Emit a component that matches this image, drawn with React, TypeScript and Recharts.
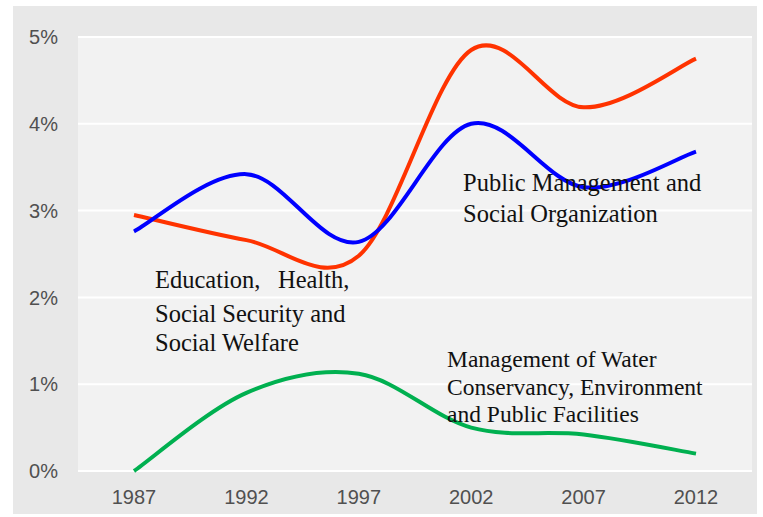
import React from 'react';
import { LineChart, Line, XAxis, YAxis, CartesianGrid } from 'recharts';

const years = ['1987', '1992', '1997', '2002', '2007', '2012'];
const redSeries = [2.95, 2.66, 2.48, 4.85, 4.19, 4.75];
const blueSeries = [2.76, 3.42, 2.64, 4.0, 3.27, 3.68];
const greenSeries = [0.0, 0.9, 1.12, 0.5, 0.42, 0.2];
const yTicks = [0, 1, 2, 3, 4, 5];

const data = years.map((year, i) => ({
  year,
  red: redSeries[i],
  blue: blueSeries[i],
  green: greenSeries[i],
}));

// Excel-like smoothing (Catmull-Rom style Bezier segments)
const excelCurve = (context: any) => {
  let pts: number[][] = [];
  return {
    areaStart() {},
    areaEnd() {},
    lineStart() {
      pts = [];
    },
    lineEnd() {
      if (!pts.length) return;
      context.moveTo(pts[0][0], pts[0][1]);
      for (let i = 0; i < pts.length - 1; i++) {
        const p0 = pts[i - 1] || pts[i];
        const p1 = pts[i];
        const p2 = pts[i + 1];
        const p3 = pts[i + 2] || pts[i + 1];
        const c1x = p1[0] + (p2[0] - p0[0]) / 6;
        const c1y = p1[1] + (p2[1] - p0[1]) / 6;
        const c2x = p2[0] - (p3[0] - p1[0]) / 6;
        const c2y = p2[1] - (p3[1] - p1[1]) / 6;
        context.bezierCurveTo(c1x, c1y, c2x, c2y, p2[0], p2[1]);
      }
    },
    point(x: number, y: number) {
      pts.push([+x, +y]);
    },
  };
};

const tickFont = "'Liberation Sans Narrow', 'Arial Narrow', 'Liberation Sans', sans-serif";
const serif = "'Liberation Serif', 'Times New Roman', serif";

export default function App() {
  return (
    <div style={{ position: 'absolute', left: 0, top: 0, width: 763, height: 517, background: '#ffffff' }}>
      <div style={{ position: 'absolute', left: 13, top: 6, width: 744, height: 508, background: '#e8e8e8' }} />
      <div style={{ position: 'absolute', left: 0, top: 0 }}>
        <LineChart width={763} height={517} data={data} margin={{ top: 37, right: 11, bottom: 0, left: 0 }}>
          <CartesianGrid vertical={false} stroke="#ffffff" strokeWidth={2} fill="#f2f2f2" />
          <XAxis
            dataKey="year"
            height={46}
            axisLine={false}
            tickLine={false}
            tickSize={0}
            tickMargin={19}
            padding={{ left: 56, right: 56 }}
            tick={{ fill: '#505050', fontSize: 20, fontFamily: tickFont }}
            interval={0}
          />
          <YAxis
            width={78}
            domain={[0, 5]}
            ticks={yTicks}
            axisLine={false}
            tickLine={false}
            tickSize={0}
            tickMargin={20}
            tickFormatter={(v: number) => `${v}%`}
            tick={{ fill: '#505050', fontSize: 20, fontFamily: tickFont }}
          />
          <Line dataKey="red" type={excelCurve as any} stroke="#ff3300" strokeWidth={4} dot={false} isAnimationActive={false} />
          <Line dataKey="blue" type={excelCurve as any} stroke="#0000ff" strokeWidth={4} dot={false} isAnimationActive={false} />
          <Line dataKey="green" type={excelCurve as any} stroke="#00b050" strokeWidth={4} dot={false} isAnimationActive={false} />
        </LineChart>
      </div>
      <svg width={763} height={517} style={{ position: 'absolute', left: 0, top: 0, pointerEvents: 'none' }}>
        <g fontFamily={serif} fontSize={24.5} fill="#111111">
          <text x={155} y={288}>
            <tspan>Education,</tspan>
            <tspan x={278}>Health,</tspan>
          </text>
          <text x={155} y={322}>Social Security and</text>
          <text x={155} y={351}>Social Welfare</text>
          <text x={463} y={191}>
            <tspan>Public Management</tspan>
            <tspan x={666}>and</tspan>
          </text>
          <text x={463} y={222}>Social Organization</text>
          <text x={447} y={367} fontSize={23.5}>
            <tspan>Management</tspan>
            <tspan x={576}>of Water</tspan>
          </text>
          <text x={447} y={395} fontSize={23.5}>Conservancy, Environment</text>
          <text x={447} y={422} fontSize={23.5}>and Public Facilities</text>
        </g>
      </svg>
    </div>
  );
}
